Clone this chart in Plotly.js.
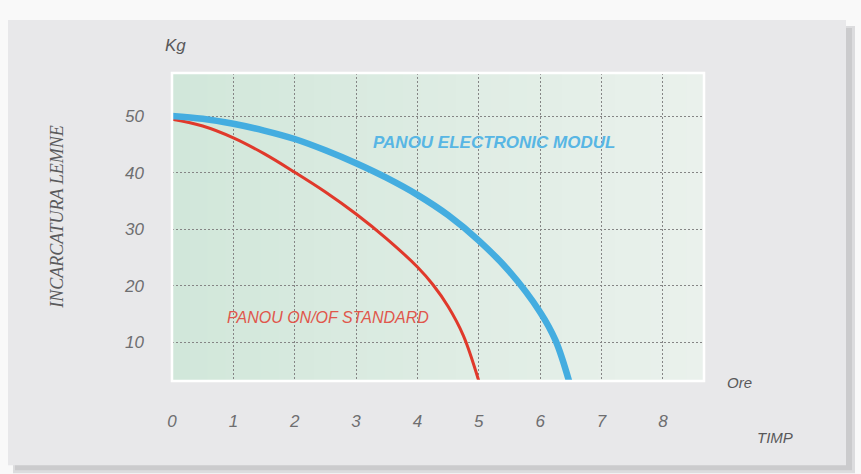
<!DOCTYPE html>
<html>
<head>
<meta charset="utf-8">
<script src="https://cdn.plot.ly/plotly-3.0.1.min.js"></script>
<style>
  html, body { margin: 0; padding: 0; background: #f9f9f9; }
  #chart { width: 861px; height: 474px; }
</style>
</head>
<body>
<div id="chart"></div>
<script>
// ---- data ----
const xTickVals = [0, 1, 2, 3, 4, 5, 6, 7, 8];
const yTickVals = [10, 20, 30, 40, 50];

const standardName = "PANOU ON/OF STANDARD";
const standardX = [0, 0.5, 1, 1.5, 2, 2.5, 3, 3.5, 4, 4.25, 4.5, 4.75, 5.0];
const standardY = [49.5, 48.3, 46.2, 43.4, 40.1, 36.6, 32.7, 28.3, 23.3, 20.2, 16.3, 11.1, 3.1];

const electronicName = "PANOU ELECTRONIC MODUL";
const electronicX = [0, 0.5, 1, 1.5, 2, 2.5, 3, 3.5, 4, 4.5, 5, 5.5, 6, 6.25, 6.47];
const electronicY = [50.1, 49.6, 48.7, 47.5, 46.0, 44.0, 41.7, 39.1, 36.1, 32.5, 28.0, 22.5, 15.3, 10.3, 3.1];

const yTitle = "INCARCATURA LEMNE";
const yUnit = "Kg";
const xUnit = "Ore";
const xTitle = "TIMP";

// ---- styling / layout ----
const W = 861, H = 474;
const L = 172, R = 704, T = 73, B = 381.5;
const px = v => (v - L) / (R - L);
const py = v => (B - v) / (B - T);

const shapes = [];
// card shadow + card
shapes.push({type: 'rect', xref: 'paper', yref: 'paper', layer: 'below',
  x0: px(13), x1: px(855), y0: py(474), y1: py(26), fillcolor: '#dcdcde', line: {width: 0}});
shapes.push({type: 'rect', xref: 'paper', yref: 'paper', layer: 'below',
  x0: px(15), x1: px(852), y0: py(471), y1: py(28), fillcolor: '#cbcbcd', line: {width: 0}});
shapes.push({type: 'rect', xref: 'paper', yref: 'paper', layer: 'below',
  x0: px(8), x1: px(846), y0: py(466), y1: py(20), fillcolor: '#e8e8ea', line: {width: 0}});
// plot background gradient (left mint -> right pale)
const nStrips = 30;
const c0 = [209, 231, 218], c1 = [234, 241, 236];
for (let i = 0; i < nStrips; i++) {
  const t = i / (nStrips - 1);
  const c = c0.map((a, k) => Math.round(a + (c1[k] - a) * t));
  shapes.push({type: 'rect', xref: 'paper', yref: 'paper', layer: 'below',
    x0: i / nStrips, x1: (i + 1) / nStrips + 0.002, y0: 0, y1: 1,
    fillcolor: `rgb(${c[0]},${c[1]},${c[2]})`, line: {width: 0}});
}
// white frame around plot area
shapes.push({type: 'rect', xref: 'paper', yref: 'paper', layer: 'above',
  x0: 0, x1: 1, y0: 0, y1: 1, fillcolor: 'rgba(0,0,0,0)', line: {color: '#ffffff', width: 2.5}});

const tickFont = {family: 'Liberation Sans, Arial, sans-serif', size: 17, color: '#6e6e70', style: 'italic'};

const traces = [
  {x: standardX, y: standardY, name: standardName, type: 'scatter', mode: 'lines',
   line: {color: '#e0392b', width: 3, shape: 'spline', smoothing: 1}},
  {x: electronicX, y: electronicY, name: electronicName, type: 'scatter', mode: 'lines',
   line: {color: '#44ade0', width: 6.5, shape: 'spline', smoothing: 1}}
];

const layout = {
  width: W, height: H,
  margin: {l: L, r: W - R, t: T, b: H - B, pad: 0},
  paper_bgcolor: '#f9f9f9',
  plot_bgcolor: 'rgba(0,0,0,0)',
  showlegend: false,
  xaxis: {
    range: [0, 8.67], tickvals: xTickVals, ticktext: xTickVals.map(String),
    showgrid: true, gridcolor: '#858585', gridwidth: 1, griddash: '2px,2px',
    zeroline: false, showline: false, ticks: '', tickfont: tickFont,
    ticklabelstandoff: 28, fixedrange: true
  },
  yaxis: {
    range: [3.1, 57.7], tickvals: yTickVals, ticktext: yTickVals.map(String),
    showgrid: true, gridcolor: '#858585', gridwidth: 1, griddash: '2px,2px',
    zeroline: false, showline: false, ticks: '', tickfont: tickFont,
    ticklabelstandoff: 27, fixedrange: true
  },
  shapes: shapes,
  annotations: [
    {text: yUnit, xref: 'paper', yref: 'paper', x: px(175), y: py(45), showarrow: false,
     xanchor: 'center', yanchor: 'middle',
     font: {family: 'Liberation Sans, Arial, sans-serif', size: 17, color: '#58585a', style: 'italic'}},
    {text: xUnit, xref: 'paper', yref: 'paper', x: px(739), y: py(383), showarrow: false,
     xanchor: 'center', yanchor: 'middle',
     font: {family: 'Liberation Sans, Arial, sans-serif', size: 15, color: '#58585a', style: 'italic'}},
    {text: xTitle, xref: 'paper', yref: 'paper', x: px(775), y: py(438), showarrow: false,
     xanchor: 'center', yanchor: 'middle',
     font: {family: 'Liberation Sans, Arial, sans-serif', size: 15, color: '#58585a', style: 'italic'}},
    {text: yTitle, xref: 'paper', yref: 'paper', x: px(57), y: py(217), showarrow: false,
     textangle: -90, xanchor: 'center', yanchor: 'middle',
     font: {family: 'Liberation Serif, Times New Roman, serif', size: 18, color: '#5a5a5c', style: 'italic'}},
    {text: electronicName, xref: 'paper', yref: 'paper', x: px(493.5), y: py(143), showarrow: false,
     xanchor: 'center', yanchor: 'middle',
     font: {family: 'Liberation Sans, Arial, sans-serif', size: 17, color: '#58b6e4', style: 'italic', weight: 'bold'}},
    {text: standardName, xref: 'paper', yref: 'paper', x: px(327.5), y: py(318), showarrow: false,
     xanchor: 'center', yanchor: 'middle',
     font: {family: 'Liberation Sans, Arial, sans-serif', size: 16, color: '#e0574c', style: 'italic'}}
  ]
};

Plotly.newPlot('chart', traces, layout, {displayModeBar: false, staticPlot: true});
</script>
</body>
</html>
